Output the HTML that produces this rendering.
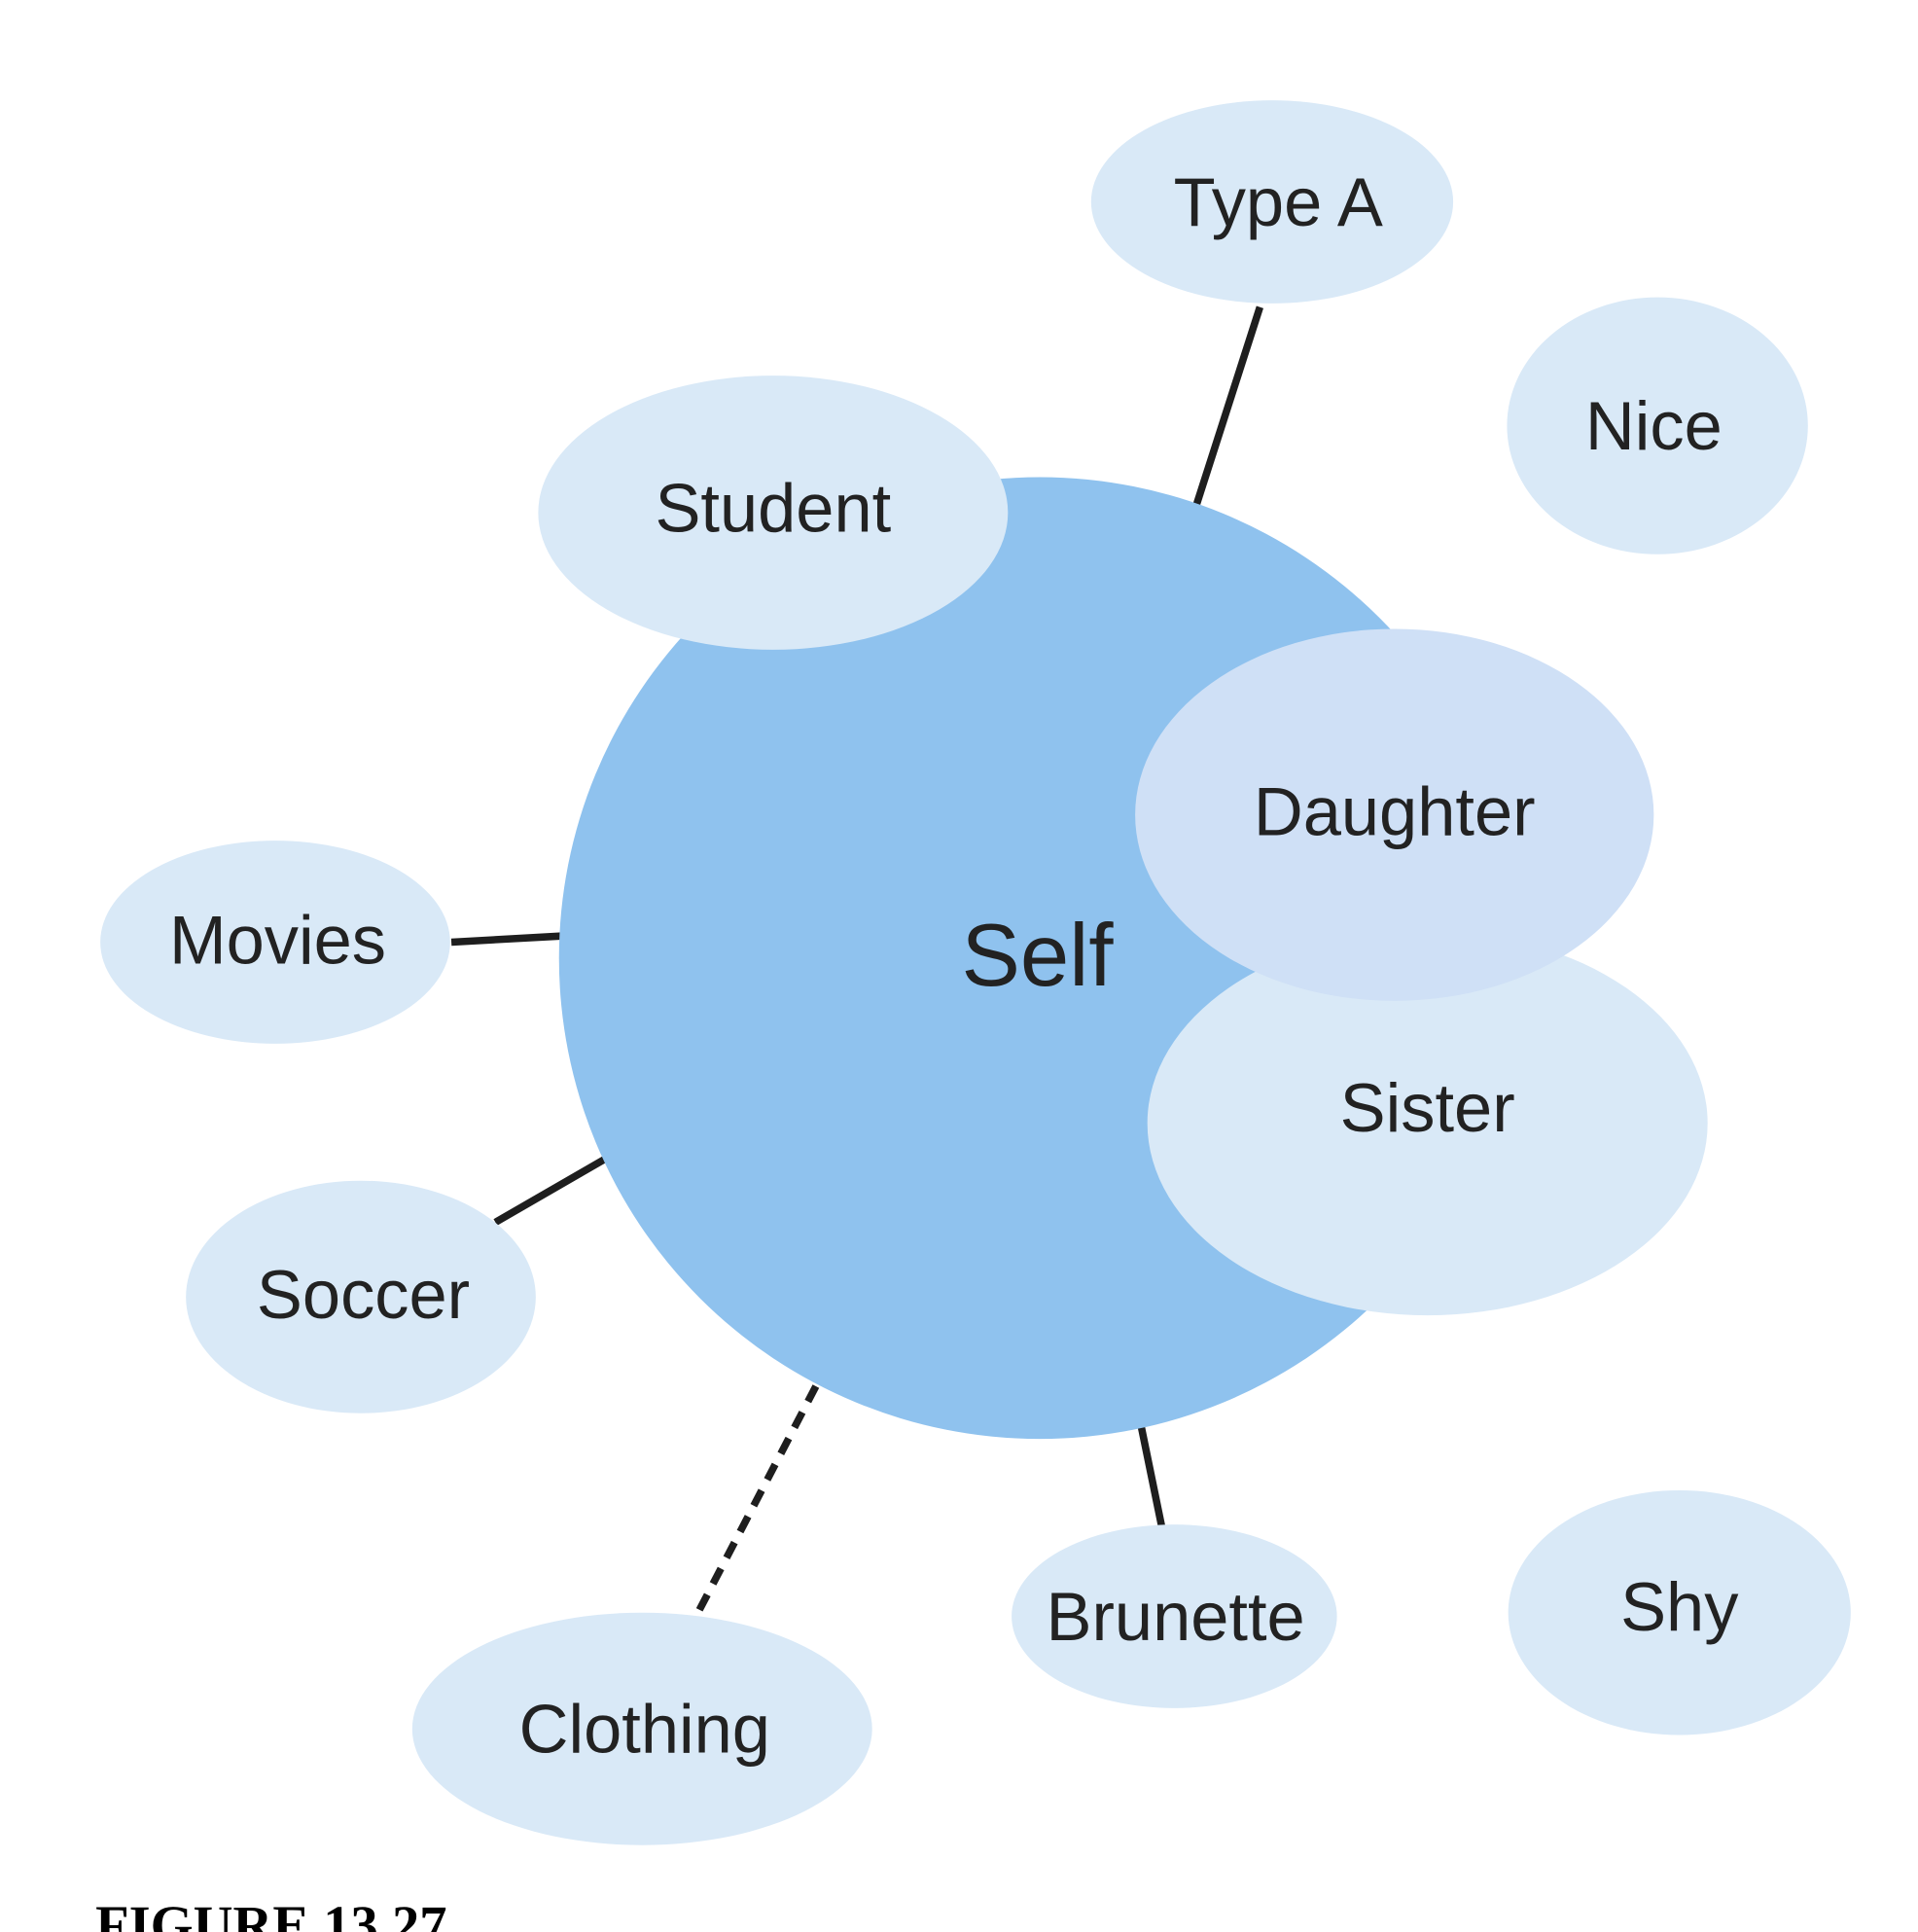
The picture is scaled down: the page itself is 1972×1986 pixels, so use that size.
<!DOCTYPE html>
<html><head><meta charset="utf-8"><style>
html,body{margin:0;padding:0;background:#fff;}
svg{display:block;}
text{font-family:"Liberation Sans",sans-serif;fill:#222;text-anchor:middle;dominant-baseline:central;}
</style></head><body>
<svg width="1972" height="1986" viewBox="0 0 1568 1579" preserveAspectRatio="none">
<g transform="translate(5,3)">
<g stroke="#1e1e1e" stroke-width="6" fill="none">
<line x1="1025" y1="248" x2="973" y2="410"/>
<line x1="364" y1="767" x2="454" y2="762"/>
<line x1="400" y1="996" x2="490" y2="944"/>
<line x1="928" y1="1163" x2="945" y2="1246"/>
<line x1="662" y1="1130" x2="563" y2="1320" stroke-dasharray="14,10"/>
</g>
<circle cx="845" cy="780" r="393" fill="#8fc2ee"/>
<g fill="#d9e9f7">
<ellipse cx="1035" cy="162" rx="148" ry="83"/>
<ellipse cx="1350" cy="345" rx="123" ry="105"/>
<ellipse cx="627" cy="416" rx="192" ry="112"/>
<ellipse cx="1162" cy="915" rx="229" ry="157"/>
<ellipse cx="220" cy="767" rx="143" ry="83"/>
<ellipse cx="290" cy="1057" rx="143" ry="95"/>
<ellipse cx="520" cy="1410" rx="188" ry="95"/>
<ellipse cx="955" cy="1318" rx="133" ry="75"/>
<ellipse cx="1368" cy="1315" rx="140" ry="100"/>
</g>
<ellipse cx="1135" cy="663" rx="212" ry="152" fill="#cfe0f6"/>
<g font-size="56">
<text x="1040" y="162">Type A</text>
<text x="1347" y="345">Nice</text>
<text x="627" y="412">Student</text>
<text x="1135" y="660">Daughter</text>
<text x="1162" y="902">Sister</text>
<text x="222" y="765">Movies</text>
<text x="292" y="1055">Soccer</text>
<text x="522" y="1410">Clothing</text>
<text x="956" y="1318">Brunette</text>
<text x="1368" y="1310">Shy</text>
</g>
<text x="843" y="778" font-size="72">Self</text>
</g>
<text x="78" y="1588" font-size="45" font-weight="bold" style="font-family:'Liberation Serif',serif;text-anchor:start;dominant-baseline:alphabetic;fill:#000">FIGURE 13.27</text>
</svg>
</body></html>
